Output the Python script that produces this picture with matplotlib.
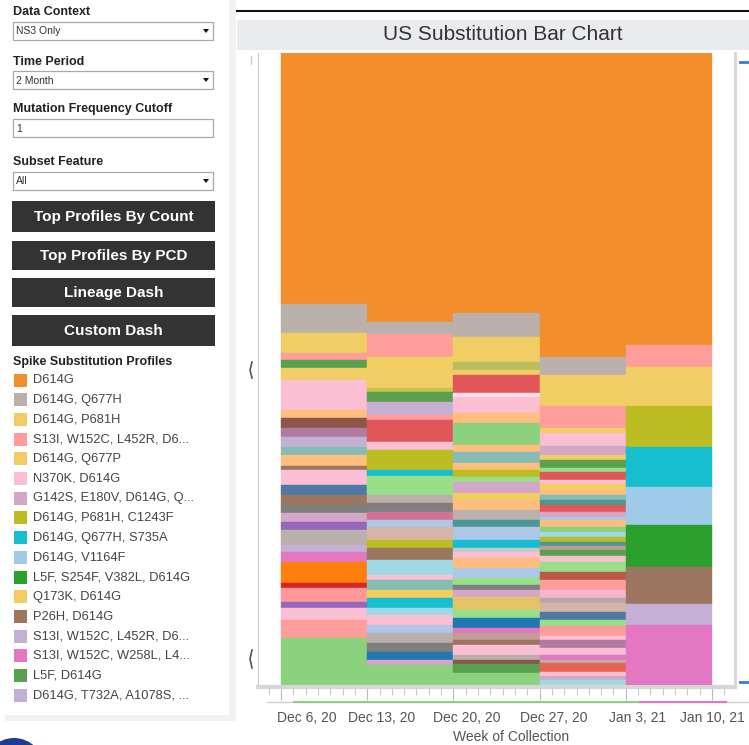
import numpy as np
import matplotlib.pyplot as plt
from matplotlib.patches import Rectangle, Circle, Polygon

plt.rcParams['font.family'] = ['Liberation Sans', 'DejaVu Sans']

# x axis
weeks = ['Dec 6, 20', 'Dec 13, 20', 'Dec 20, 20', 'Dec 27, 20', 'Jan 3, 21', 'Jan 10, 21']
label_pos = [0.30, 1.17, 2.16, 3.16, 4.14, 5.0]

# legend
profiles = ['D614G', 'D614G, Q677H', 'D614G, P681H', 'S13I, W152C, L452R, D6...',
            'D614G, Q677P', 'N370K, D614G', 'G142S, E180V, D614G, Q...',
            'D614G, P681H, C1243F', 'D614G, Q677H, S735A', 'D614G, V1164F',
            'L5F, S254F, V382L, D614G', 'Q173K, D614G', 'P26H, D614G',
            'S13I, W152C, L452R, D6...', 'S13I, W152C, W258L, L4...', 'L5F, D614G',
            'D614G, T732A, A1078S, ...']
profile_colors = ['#f28e2b', '#bab0ac', '#f1ce63', '#ff9d9a', '#f1ce63', '#fabfd2',
                  '#d4a6c8', '#bcbd22', '#17becf', '#a0cbe8', '#2ca02c', '#f1ce63',
                  '#9d7660', '#c5b0d5', '#e377c2', '#59a14f', '#c5b0d5']

# share of sequences per week, top of the bar to the bottom
wk1_share = [251, 29, 20, 7, 8, 12, 30, 8, 10, 9, 10, 8, 11, 4, 15, 10, 10, 8, 9, 8,
             15, 7, 10, 21, 5, 14, 6, 12, 18, 49]
wk1_color = ['#f28e2b', '#bab0ac', '#f1ce63', '#ff9d9a', '#59a14f', '#f1ce63', '#fabfd2',
             '#ffbe7d', '#8c564b', '#b07aa1', '#c5b0d5', '#86bcb6', '#ffbe7d', '#9c755f',
             '#fabfd2', '#4e79a7', '#9d7660', '#7f7f7f', '#d4a6c8', '#9467bd', '#bab0ac',
             '#c5b0d5', '#e377c2', '#ff7f0e', '#d62728', '#ff9896', '#9467bd', '#fabfd2',
             '#ff9d9a', '#8cd17d']

wk2_share = [269, 12, 23, 31, 4, 10, 13, 5, 22, 8, 20, 6, 19, 8, 9, 8, 7, 13, 8, 12,
             15, 5, 10, 8, 10, 7, 10, 8, 10, 9, 8, 5, 22]
wk2_color = ['#f28e2b', '#bab0ac', '#ff9d9a', '#f1ce63', '#c9c44c', '#59a14f', '#c5b0d5',
             '#ff9d9a', '#e15759', '#fabfd2', '#bcbd22', '#17becf', '#98df8a', '#bab0ac',
             '#7f7f7f', '#d37295', '#aec7e8', '#d7b5a6', '#bcbd22', '#9c755f', '#9edae5',
             '#fabfd2', '#86bcb6', '#f1ce63', '#17becf', '#9edae5', '#fabfd2', '#aec7e8',
             '#bab0ac', '#7f7f7f', '#1f77b4', '#d4a6c8', '#8cd17d']

wk3_share = [260, 24, 25, 8, 5, 18, 4, 16, 10, 22, 7, 11, 7, 7, 5, 11, 7, 10, 10, 7,
             13, 8, 4, 6, 10, 10, 7, 5, 7, 13, 8, 10, 5, 7, 5, 10, 5, 4, 9, 14]
wk3_color = ['#f28e2b', '#bab0ac', '#f1ce63', '#b9bd5d', '#f1ce63', '#e15759', '#fde0ea',
             '#fabfd2', '#ffbe7d', '#8cd17d', '#ffbe7d', '#86bcb6', '#ffbe7d', '#bcbd22',
             '#98df8a', '#d4a6c8', '#f1ce63', '#ffbe7d', '#bab0ac', '#499894', '#aec7e8',
             '#17becf', '#c7c7c7', '#fabfd2', '#ffbe7d', '#aec7e8', '#98df8a', '#7f7f7f',
             '#d4a6c8', '#e5c468', '#98df8a', '#1f77b4', '#e377c2', '#c49c94', '#9c755f',
             '#fabfd2', '#bab0ac', '#8c564b', '#59a14f', '#8cd17d']

wk4_share = [304, 18, 31, 22, 5, 13, 9, 5, 8, 4, 8, 4, 6, 5, 5, 5, 7, 5, 3, 7, 5, 5,
             5, 4, 4, 6, 6, 10, 8, 10, 8, 5, 9, 8, 6, 10, 4, 8, 7, 5, 3, 9, 4, 4, 7]
wk4_color = ['#f28e2b', '#bab0ac', '#f1ce63', '#ff9d9a', '#f1ce63', '#fabfd2', '#d4a6c8',
             '#f1ce63', '#59a14f', '#98df8a', '#e15759', '#fabfd2', '#f1ce63', '#ffbe7d',
             '#86bcb6', '#499894', '#e15759', '#d4a6c8', '#aec7e8', '#ffbe7d', '#8cd17d',
             '#9edae5', '#bcbd22', '#499894', '#c49c94', '#59a14f', '#fabfd2', '#98df8a',
             '#b9594a', '#ff9d9a', '#f8b6ce', '#b9a6b0', '#d7b5a6', '#4e79a7', '#98df8a',
             '#ff9d9a', '#fabfd2', '#b07aa1', '#fabfd2', '#e377c2', '#bab0ac', '#e8624f',
             '#fabfd2', '#d4a6c8', '#9edae5']

wk5_share = [292, 22, 39, 41, 40, 38, 42, 37, 21, 62]
wk5_color = ['#f28e2b', '#ff9d9a', '#f1ce63', '#bcbd22', '#17becf', '#a0cbe8', '#2ca02c',
             '#9d7660', '#c5b0d5', '#e377c2']

shares = [wk1_share, wk2_share, wk3_share, wk4_share, wk5_share]
colors = [wk1_color, wk2_color, wk3_color, wk4_color, wk5_color]

W, H = 749, 745
fig = plt.figure(figsize=(W / 100, H / 100), dpi=100)
fig.patch.set_facecolor('white')

# pixel-space overlay for the dashboard furniture
ui = fig.add_axes([0, 0, 1, 1])
ui.set_xlim(0, W)
ui.set_ylim(H, 0)
ui.axis('off')

# left panel shadow
ui.add_patch(Rectangle((229, 0), 7, 721, color='#f2f2f2', lw=0))
ui.add_patch(Rectangle((5, 715), 226, 6, color='#f2f2f2', lw=0))

lbl = dict(fontsize=9, fontweight='bold', color='#222222', va='center', ha='left')
fields = [('Data Context', 12, 22, 'NS3 Only', True),
          ('Time Period', 62, 71, '2 Month', True),
          ('Mutation Frequency Cutoff', 109, 119, '1', False),
          ('Subset Feature', 162, 172, 'All', True)]
for name, ly, by, val, drop in fields:
    ui.text(13, ly, name, **lbl)
    ui.add_patch(Rectangle((13, by), 200, 18, fc='white', ec='#a9a9a9', lw=0.9))
    ui.text(16, by + 9.5, val, fontsize=7.5, color='#333333', va='center')
    if drop:
        ui.add_patch(Polygon([(203, by + 7), (209, by + 7), (206, by + 11)],
                             closed=True, color='#111111', lw=0))

buttons = [('Top Profiles By Count', 201, 232), ('Top Profiles By PCD', 241, 270),
           ('Lineage Dash', 278, 307), ('Custom Dash', 315, 346)]
for name, y0, y1 in buttons:
    ui.add_patch(Rectangle((12, y0), 203, y1 - y0, color='#333333', lw=0))
    ui.text(113.5, (y0 + y1) / 2 + 0.5, name, fontsize=11, fontweight='bold',
            color='white', ha='center', va='center')

ui.text(13, 362, 'Spike Substitution Profiles', **lbl)
for k, (name, c) in enumerate(zip(profiles, profile_colors)):
    yc = 380 + 19.7 * k
    ui.add_patch(Rectangle((14, yc - 6.5), 13, 13, color=c, lw=0))
    ui.text(33, yc, name, fontsize=9.3, color='#444444', va='center')

# chart header
ui.plot([237, 749], [11, 11], color='#111111', lw=1.5)
ui.add_patch(Rectangle((237, 20), 512, 30, color='#eaebee', lw=0))
ui.text(503, 35, 'US Substitution Bar Chart', fontsize=15, color='#333333',
        ha='center', va='center')

# side marks and range strip
ui.plot([251, 251], [56, 64], color='#cccccc', lw=1)
ui.plot([252, 250, 252], [362, 370, 378], color='#555555', lw=1.2)
ui.plot([252, 250, 252], [650, 659, 668], color='#555555', lw=1.2)
ui.plot([740, 749], [62, 62], color='#3b78e7', lw=2)
ui.plot([740, 749], [682, 682], color='#3b78e7', lw=2)
ui.plot([267, 749], [702, 702], color='#cccccc', lw=1)
ui.plot([294, 640], [702, 702], color='#8cd17d', lw=1.5)
ui.plot([640, 726], [702, 702], color='#e377c2', lw=1.5)
ui.add_patch(Circle((14, 768), 30, color='#1d3c8f', lw=0))
ui.text(511, 737, 'Week of Collection', fontsize=10, color='#555555',
        ha='center', va='center')

# bar chart
ax = fig.add_axes([258 / W, 1 - 687 / H, (735 - 258) / W, 634 / H])
ax.set_facecolor('none')
for i, (s, c) in enumerate(zip(shares, colors)):
    pct = np.array(s, dtype=float) / sum(s) * 100
    bottoms = 100 - np.cumsum(pct)
    ax.bar(i, pct, bottom=bottoms, width=1, align='edge', color=c,
           edgecolor=c, linewidth=0.3)

ax.set_xlim(-0.267, 5.267)
ax.set_ylim(0, 100)
ax.set_yticks([])
ax.set_xticks(range(6))
ax.set_xticklabels([''] * 6)
ax.set_xticks(np.arange(-1, 37) / 7, minor=True)
ax.tick_params(axis='x', which='major', length=9.5, width=0.8, color='#bbbbbb')
ax.tick_params(axis='x', which='minor', length=5.5, width=0.8, color='#cccccc')
for x, lab in zip(label_pos, weeks):
    ax.text(x, -0.049, lab, transform=ax.get_xaxis_transform(), fontsize=10,
            color='#555555', ha='center', va='center')

ax.spines['top'].set_visible(False)
ax.spines['left'].set_color('#cccccc')
ax.spines['right'].set_color('#d5d5d5')
ax.spines['right'].set_linewidth(2)
ax.spines['bottom'].set_color('#d6d6d6')
ax.spines['bottom'].set_linewidth(3)

fig.savefig('out.png', dpi=100)
